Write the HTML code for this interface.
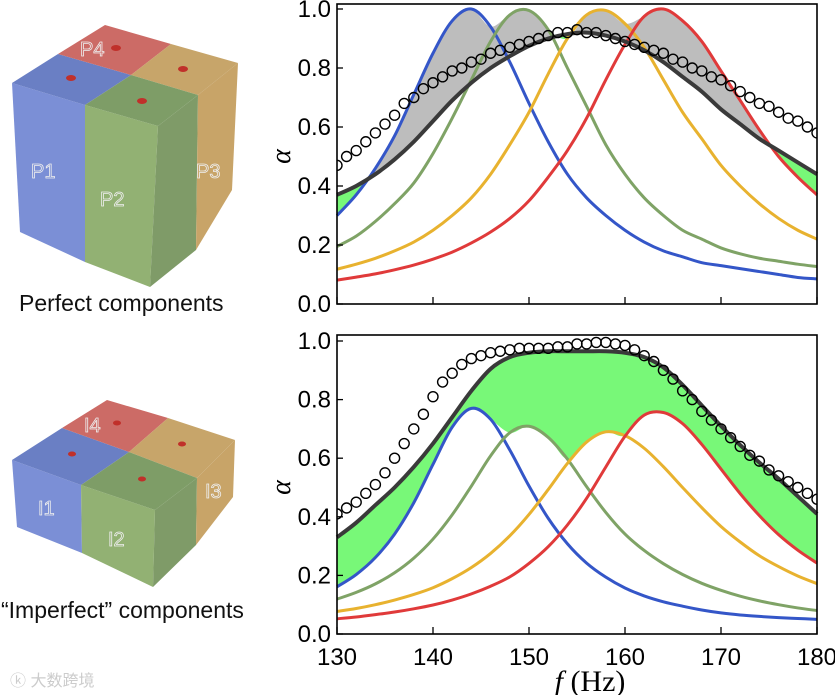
<!DOCTYPE html>
<html><head><meta charset="utf-8"><style>
body{margin:0;background:#fff;width:835px;height:695px;overflow:hidden;font-family:"Liberation Sans",sans-serif}
svg{position:absolute;left:0;top:0}
</style></head><body>
<svg id="s" width="835" height="695" xmlns="http://www.w3.org/2000/svg">
<defs></defs>
<g id="cubes">
 <g>
  <polygon points="12,83 85,105 85,262 20,232" fill="#7b8fd6"/>
  <polygon points="85,105 158,126 150,287 85,262" fill="#92b173"/>
  <polygon points="158,126 198,95 196,250 150,287" fill="#7f9b68"/>
  <polygon points="198,95 238,63 232,190 196,250" fill="#c8a468"/>
  <polygon points="12,83 58,54 131,75 85,105" fill="#6a7fc4"/>
  <polygon points="58,54 105,25 171,44 131,75" fill="#cc6b66"/>
  <polygon points="131,75 171,44 238,63 198,95" fill="#c7a56a"/>
  <polygon points="85,105 131,75 198,95 158,126" fill="#7e9d67"/>
  <ellipse cx="71" cy="78" rx="5" ry="3" fill="#c0302a"/><ellipse cx="116" cy="48" rx="5" ry="3" fill="#c0302a"/>
  <ellipse cx="183" cy="69" rx="5" ry="3" fill="#c0302a"/><ellipse cx="142" cy="101" rx="5" ry="3" fill="#c0302a"/>
  <g font-size="20" fill="none" stroke="#eee" stroke-width="0.8">
   <text x="31" y="178">P1</text>
   <text x="100" y="206">P2</text>
   <text x="196" y="178">P3</text>
   <text x="80" y="56">P4</text>
  </g>
 </g>
 <text x="19" y="311" font-size="23" fill="#111">Perfect components</text>
 <g>
  <polygon points="12,460 81,485 82,553 17,527" fill="#7b8fd6"/>
  <polygon points="81,485 155,510 153,587 82,553" fill="#92b173"/>
  <polygon points="155,510 197,478 196,545 153,587" fill="#7f9b68"/>
  <polygon points="197,478 235,440 233,497 196,545" fill="#c8a468"/>
  <polygon points="12,460 62,428 129,452 81,485" fill="#6a7fc4"/>
  <polygon points="62,428 107,400 168,418 129,452" fill="#cc6b66"/>
  <polygon points="129,452 168,418 235,440 197,478" fill="#c7a56a"/>
  <polygon points="81,485 129,452 197,478 155,510" fill="#7e9d67"/>
  <ellipse cx="72" cy="454" rx="4" ry="2.5" fill="#c0302a"/><ellipse cx="117" cy="423" rx="4" ry="2.5" fill="#c0302a"/>
  <ellipse cx="182" cy="444" rx="4" ry="2.5" fill="#c0302a"/><ellipse cx="142" cy="479" rx="4" ry="2.5" fill="#c0302a"/>
  <g font-size="20" fill="none" stroke="#eee" stroke-width="0.8">
   <text x="38" y="515">I1</text>
   <text x="108" y="546">I2</text>
   <text x="205" y="498">I3</text>
   <text x="84" y="432">I4</text>
  </g>
 </g>
 <text x="1" y="618" font-size="23" fill="#111">“Imperfect” components</text>
 <text x="10" y="686" font-size="16" fill="#ccc" font-family="'Liberation Sans','Noto Sans CJK SC',sans-serif">ⓚ 大数跨境</text>
</g>
<g id="plots"></g>
</svg>
<script>
const freqs=[130,132,134,136,138,140,142,144,146,148,150,152,154,156,158,160,162,164,166,168,170,172,174,176,178,180];
const topBlue=[.30,.37,.46,.57,.71,.85,.96,1.0,.94,.82,.68,.55,.44,.36,.30,.25,.21,.18,.16,.14,.13,.12,.11,.10,.09,.085];
const topGreen=[.195,.23,.28,.34,.41,.51,.63,.76,.89,.98,.995,.93,.80,.67,.54,.44,.36,.30,.25,.22,.19,.17,.155,.145,.135,.127];
const topYellow=[.118,.135,.155,.18,.21,.25,.30,.36,.44,.54,.65,.78,.90,.98,.995,.95,.87,.76,.65,.56,.47,.40,.34,.29,.25,.22];
const topRed=[.081,.091,.102,.116,.132,.152,.176,.207,.244,.29,.35,.43,.52,.63,.76,.88,.975,1.0,.96,.89,.79,.69,.59,.50,.43,.37];
const topBlack=[.37,.40,.44,.49,.55,.62,.69,.75,.80,.84,.875,.90,.915,.92,.91,.89,.86,.82,.77,.72,.66,.61,.56,.52,.48,.44];
const expFreqs=[130,131,132,133,134,135,136,137,138,139,140,141,142,143,144,145,146,147,148,149,150,151,152,153,154,155,156,157,158,159,160,161,162,163,164,165,166,167,168,169,170,171,172,173,174,175,176,177,178,179,180];
const topExp=[.47,.50,.52,.55,.58,.61,.64,.68,.70,.73,.75,.77,.79,.80,.82,.83,.85,.86,.87,.88,.89,.90,.91,.92,.92,.93,.92,.92,.91,.90,.89,.88,.87,.86,.85,.83,.82,.80,.79,.77,.76,.74,.72,.70,.68,.67,.65,.63,.62,.60,.58];
const botBlue=[.161,.203,.261,.341,.448,.579,.706,.77,.733,.628,.505,.395,.308,.242,.194,.157,.13,.11,.095,.082,.072,.065,.06,.056,.053,.05];
const botGreen=[.119,.142,.171,.209,.259,.324,.407,.505,.608,.687,.709,.671,.597,.503,.415,.341,.285,.240,.203,.173,.149,.129,.113,.10,.089,.08];
const botYellow=[.077,.087,.10,.116,.135,.158,.189,.227,.275,.335,.408,.493,.582,.655,.69,.677,.634,.571,.50,.431,.367,.314,.267,.23,.198,.172];
const botRed=[.052,.058,.066,.075,.086,.099,.116,.137,.163,.195,.241,.298,.372,.463,.57,.675,.747,.756,.718,.647,.563,.479,.404,.339,.286,.242];
const botBlack=[.33,.38,.44,.50,.57,.65,.74,.83,.905,.945,.96,.965,.965,.965,.965,.96,.945,.91,.85,.78,.71,.645,.585,.53,.47,.41];
const botExp=[.41,.43,.45,.48,.51,.55,.60,.65,.70,.75,.81,.86,.89,.92,.94,.95,.96,.965,.97,.975,.975,.975,.975,.98,.98,.99,.99,.995,.995,.99,.985,.97,.95,.93,.90,.87,.83,.80,.76,.73,.70,.67,.64,.61,.59,.56,.54,.52,.50,.48,.46];
const xTicks=[130,140,150,160,170,180];
const yTicks=[0,0.2,0.4,0.6,0.8,1.0];

const NS="http://www.w3.org/2000/svg";
const svg=document.getElementById('s'),defs=svg.querySelector('defs'),root=document.getElementById('plots');
function mk(t,a,p){const e=document.createElementNS(NS,t);for(const k in a)e.setAttribute(k,a[k]);(p||root).appendChild(e);return e;}
const X0=337,X1=817;
function sx(f){return X0+(f-130)/(180-130)*(X1-X0);}
function smooth(pts){let d='M'+pts[0][0]+','+pts[0][1];for(let i=0;i<pts.length-1;i++){const p0=pts[Math.max(i-1,0)],p1=pts[i],p2=pts[i+1],p3=pts[Math.min(i+2,pts.length-1)];
 d+=' C'+(p1[0]+(p2[0]-p0[0])/6)+','+(p1[1]+(p2[1]-p0[1])/6)+' '+(p2[0]-(p3[0]-p1[0])/6)+','+(p2[1]-(p3[1]-p1[1])/6)+' '+p2[0]+','+p2[1];}return d;}
let cid=0;
function panel(name,yTop,yBot,frameTop,series,black,exp,showX){
 const sy=v=>yBot-v*(yBot-yTop);
 const g=mk('g',{});
 
 
 const mx=freqs.map((f,i)=>Math.max(...series.map(s=>s.vals[i])));
 const mxP=freqs.map((f,i)=>[sx(f),sy(mx[i])]),bkP=freqs.map((f,i)=>[sx(f),sy(black[i])]);
 const mxD=smooth(mxP),bkD=smooth(bkP);
 const c1='c'+(cid++),c2='c'+(cid++);
 const cp1=mk('clipPath',{id:c1},defs);mk('path',{d:bkD+' L'+X1+','+frameTop+' L'+X0+','+frameTop+'Z'},cp1);
 const cp2=mk('clipPath',{id:c2},defs);mk('path',{d:mxD+' L'+X1+','+frameTop+' L'+X0+','+frameTop+'Z'},cp2);
 const gray=mk('path',{d:mxD+' L'+X1+','+yBot+' L'+X0+','+yBot+'Z',fill:'#bdbdbd','clip-path':'url(#'+c1+')'},g);
 
 
 const green=mk('path',{d:bkD+' L'+X1+','+yBot+' L'+X0+','+yBot+'Z',fill:'#78f878','clip-path':'url(#'+c2+')'},g);
 
 
 series.forEach(s=>{const p=mk('path',{d:smooth(freqs.map((f,i)=>[sx(f),sy(s.vals[i])])),fill:'none',stroke:s.c,'stroke-width':3},g);
  
  });
 const bl=mk('path',{d:bkD,fill:'none',stroke:'#3a3a3a','stroke-width':4},g);
 
 
 const fc=mk('clipPath',{id:'fr'+name},defs);mk('rect',{x:X0,y:frameTop,width:X1-X0,height:yBot-frameTop},fc);
 const eg=mk('g',{'clip-path':'url(#fr'+name+')'},g);
 exp.forEach((v,i)=>{const c=mk('circle',{cx:sx(expFreqs[i]),cy:sy(v),r:5,fill:'none',stroke:'#000','stroke-width':1.4},eg);
  
  });
 const fr=mk('rect',{x:X0,y:frameTop,width:X1-X0,height:yBot-frameTop,fill:'none',stroke:'#000','stroke-width':1.6},g);
 
 
 yTicks.forEach(v=>{mk('line',{x1:X0,x2:X0+6,y1:sy(v),y2:sy(v),stroke:'#000','stroke-width':1.3},g);
  const t=mk('text',{x:X0-6,y:sy(v)+8,'font-size':24,'text-anchor':'end',fill:'#000'},g);t.textContent=v.toFixed(1);
  
  });
 xTicks.forEach(f=>{mk('line',{x1:sx(f),x2:sx(f),y1:yBot,y2:yBot-7,stroke:'#000','stroke-width':1.3},g);
  if(showX){const t=mk('text',{x:sx(f),y:yBot+31,'font-size':24,'text-anchor':'middle',fill:'#000'},g);t.textContent=f;
   
   }});
 const yl=mk('text',{x:0,y:0,'font-size':28,'font-style':'italic','font-family':'"Liberation Serif",serif','text-anchor':'middle',transform:'translate(290,'+((yTop+yBot)/2)+') rotate(-90)'},g);
 yl.textContent='α';
 
 
}
panel('top-chart',9,304,4,[{n:'blue-p1',c:'#3456c8',vals:topBlue},{n:'green-p2',c:'#7fa366',vals:topGreen},{n:'yellow-p3',c:'#e8b22f',vals:topYellow},{n:'red-p4',c:'#e03a3a',vals:topRed}],topBlack,topExp,false);
panel('bottom-chart',341,634,335,[{n:'blue-i1',c:'#3456c8',vals:botBlue},{n:'green-i2',c:'#7fa366',vals:botGreen},{n:'yellow-i3',c:'#e8b22f',vals:botYellow},{n:'red-i4',c:'#e03a3a',vals:botRed}],botBlack,botExp,true);
const xt=mk('text',{x:590,y:691,'font-size':30,'text-anchor':'middle','font-family':'"Liberation Serif",serif'});
xt.innerHTML='<tspan font-style="italic">f</tspan>  (Hz)';


</script>
</body></html>
